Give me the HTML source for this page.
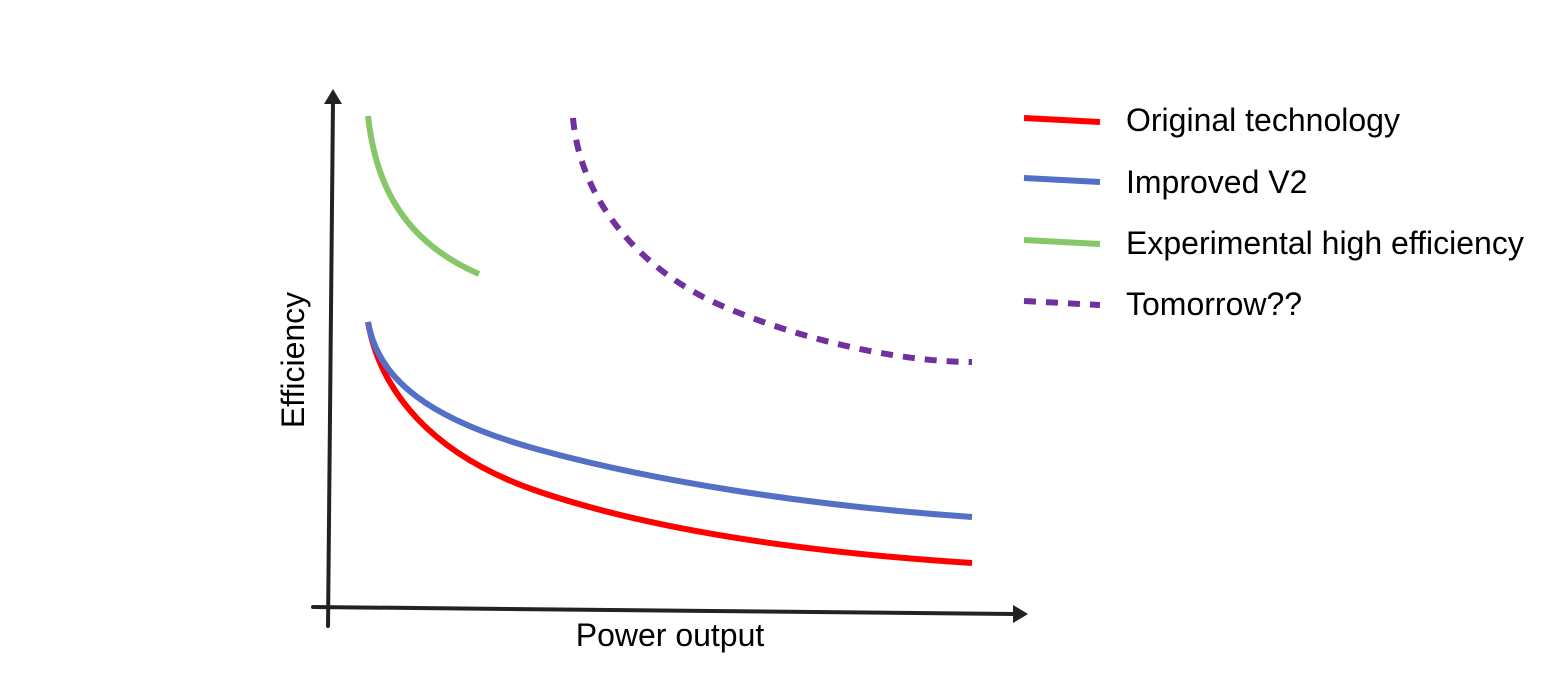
<!DOCTYPE html>
<html><head><style>body{margin:0;background:#fff}svg{display:block}</style></head>
<body>
<svg width="1557" height="682" viewBox="0 0 1557 682" xmlns="http://www.w3.org/2000/svg">
<g stroke="#222" stroke-width="4" stroke-linecap="round" fill="none">
<line x1="328" y1="626" x2="333" y2="100"/>
<line x1="313" y1="607" x2="1015" y2="614"/>
</g>
<polygon points="333,89 324,104 342,104" fill="#222"/>
<polygon points="1028,614 1013,605 1013,623" fill="#222"/>
<g fill="none" stroke-width="6">
<path d="M368,322 C380,390 430,455 540,492 S800,552 972,563" stroke="#ff0000"/>
<path d="M368,322 C378,380 430,420 540,450 S800,505 972,517" stroke="#5470c6"/>
<path d="M368,116 C375,180 400,240 479,274" stroke="#86c76a"/>
<path d="M573,118 C580,200 640,270 720,305 S900,362 972,362" stroke="#7030a0" stroke-dasharray="12,10"/>
<line x1="1024" y1="118" x2="1100" y2="122" stroke="#ff0000"/>
<line x1="1024" y1="178" x2="1100" y2="182" stroke="#5470c6"/>
<line x1="1024" y1="240" x2="1100" y2="244" stroke="#86c76a"/>
<line x1="1024" y1="301" x2="1100" y2="305" stroke="#7030a0" stroke-dasharray="12,10"/>
</g>
<g font-family="Liberation Sans, sans-serif" font-size="32" fill="#000">
<text x="1126" y="131">Original technology</text>
<text x="1126" y="193">Improved V2</text>
<text x="1126" y="254">Experimental high efficiency</text>
<text x="1126" y="315">Tomorrow??</text>
<text x="670" y="646" text-anchor="middle">Power output</text>
<text transform="translate(304,360) rotate(-90)" text-anchor="middle">Efficiency</text>
</g>
</svg>
</body></html>
